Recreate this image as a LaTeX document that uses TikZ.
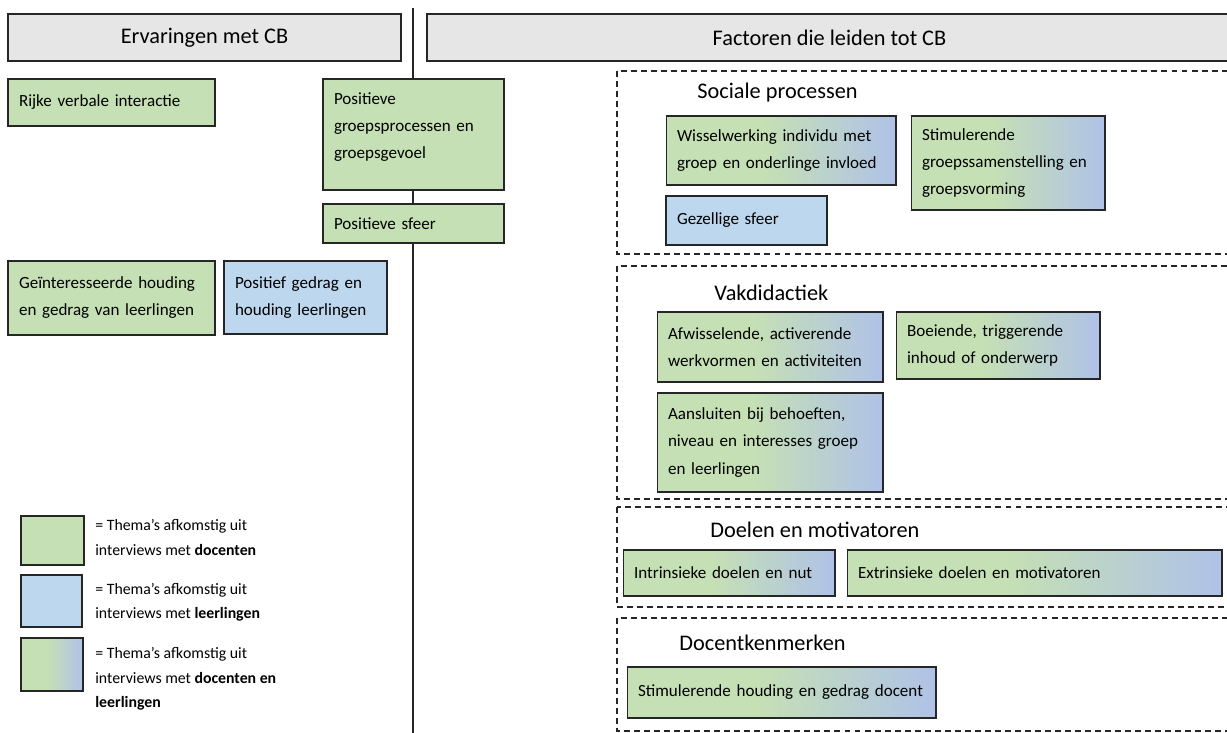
\documentclass[tikz,border=0pt]{standalone}
\usepackage{fontspec}
\setmainfont{Carlito}
\hyphenpenalty=10000
\definecolor{themagroen}{HTML}{C5E0B4}
\definecolor{themablauw}{HTML}{BDD7EE}
\definecolor{mengblauw}{HTML}{B0C3E6}
\definecolor{kopgrijs}{HTML}{E7E6E6}
\definecolor{rand}{HTML}{262626}
\pgfdeclarehorizontalshading{groenblauw}{100bp}{color(0bp)=(themagroen); color(46bp)=(themagroen); color(74bp)=(mengblauw); color(100bp)=(mengblauw)}
\tikzset{
  thema/.style={draw=rand, line width=0.6pt, align=left, inner xsep=0.22cm, inner ysep=1pt, font=\fontsize{9.7}{15.4}\selectfont},
  docent/.style={thema, fill=themagroen},
  leerling/.style={thema, fill=themablauw},
  beide/.style={thema, shade, shading=groenblauw},
  kop/.style={draw=rand, line width=0.7pt, fill=kopgrijs, inner sep=0pt, font=\fontsize{12.7}{15}\selectfont},
  deel/.style={draw=rand, line width=0.6pt, dash pattern=on 3.4pt off 2.3pt},
  deeltitel/.style={anchor=west, inner sep=0pt, font=\fontsize{12.7}{15}\selectfont},
  legenda/.style={anchor=west, inner sep=0pt, align=left, font=\fontsize{9}{13.9}\selectfont}
}
\begin{document}
\begin{tikzpicture}[x=0.02cm, y=-0.02cm]
\useasboundingbox (0,0) rectangle (1227,733);
\clip (0,0) rectangle (1227,733);
\draw[rand, line width=0.6pt] (413,8) -- (413,733);
\node[kop, minimum width=7.86cm, minimum height=0.94cm] (ervaringen) at (204.5,37.5) {Ervaringen met CB};
\node[kop, minimum width=16.1cm, minimum height=0.94cm] (factoren) at (829.5,37.5) {Factoren die leiden tot CB};

\node[docent, text width=3.7cm, minimum height=0.94cm] (rijk) at (111.5,102.5) {Rijke verbale interactie};
\node[docent, text width=3.18cm, minimum height=2.22cm] (groep) at (413.5,134.5) {Positieve\\groepsprocessen en\\groepsgevoel\\[-0.2cm]\mbox{}};
\node[docent, text width=3.18cm, minimum height=0.78cm] (sfeer) at (413.5,223.5) {Positieve sfeer};
\node[docent, text width=3.7cm, minimum height=1.48cm] (interesse) at (111.5,298) {Geïnteresseerde houding\\en gedrag van leerlingen};
\node[leerling, text width=2.82cm, minimum height=1.46cm] (gedrag) at (305.5,297.5) {Positief gedrag en\\houding leerlingen};

\node[docent, minimum width=1.26cm, minimum height=0.98cm, inner sep=0pt] (lgdocent) at (52.5,540.5) {};
\node[legenda] (lgdocenttekst) at (95,537.5) {= Thema’s afkomstig uit\\interviews met \textbf{docenten}};
\node[leerling, minimum width=1.22cm, minimum height=1.04cm, inner sep=0pt] (lgleerling) at (51.5,601) {};
\node[legenda] (lgleerlingtekst) at (95,602) {= Thema’s afkomstig uit\\interviews met \textbf{leerlingen}};
\node[beide, minimum width=1.24cm, minimum height=1.06cm, inner sep=0pt] (lgbeide) at (52,664.5) {};
\node[legenda] (lgbeidetekst) at (95,679) {= Thema’s afkomstig uit\\interviews met \textbf{docenten en}\\\textbf{leerlingen}};

\draw[deel] (617,71) rectangle (1240,254);
\draw[deel] (617,266) rectangle (1240,499);
\draw[deel] (617,507) rectangle (1240,607);
\draw[deel] (617,618) rectangle (1240,731);

\node[deeltitel] (sociaal) at (697,93) {Sociale processen};
\node[beide, text width=4.16cm, minimum height=1.38cm] (wissel) at (781,150.5) {Wisselwerking individu met\\groep en onderlinge invloed};
\node[beide, text width=3.44cm, minimum height=1.88cm] (samenstelling) at (1008,163) {Stimulerende\\groepssamenstelling en\\groepsvorming};
\node[leerling, text width=2.78cm, minimum height=0.98cm] (gezellig) at (746.5,220.5) {Gezellige sfeer};

\node[deeltitel] (vakdidactiek) at (714,293) {Vakdidactiek};
\node[beide, text width=4.08cm, minimum height=1.4cm] (werkvormen) at (770,347) {Afwisselende, activerende\\werkvormen en activiteiten};
\node[beide, text width=3.64cm, minimum height=1.34cm] (inhoud) at (998,345.5) {Boeiende, triggerende\\inhoud of onderwerp};
\node[beide, text width=4.08cm, minimum height=1.98cm] (aansluiten) at (770,442.5) {Aansluiten bij behoeften,\\niveau en interesses groep\\en leerlingen};

\node[deeltitel] (doelen) at (710,530) {Doelen en motivatoren};
\node[beide, text width=3.8cm, minimum height=0.92cm] (intrinsiek) at (729,573) {Intrinsieke doelen en nut};
\node[beide, text width=7.06cm, minimum height=0.92cm] (extrinsiek) at (1034.5,573) {Extrinsieke doelen en motivatoren};

\node[deeltitel] (kenmerken) at (679,643) {Docentkenmerken};
\node[beide, text width=5.74cm, minimum height=1.02cm] (houding) at (781.5,692.5) {Stimulerende houding en gedrag docent};
\end{tikzpicture}
\end{document}
